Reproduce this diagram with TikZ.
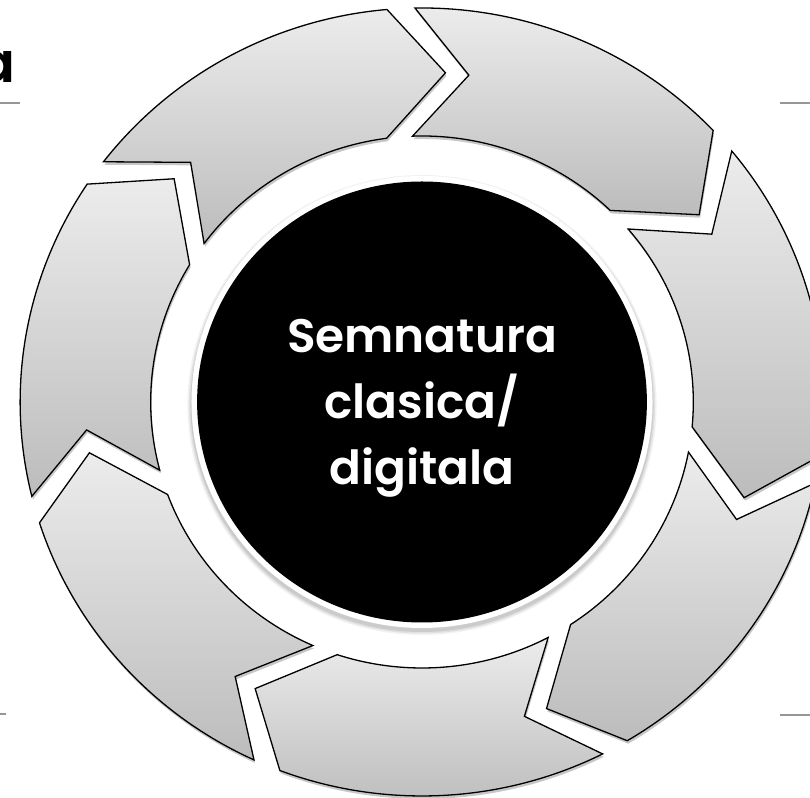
\documentclass[tikz,border=0pt]{standalone}
\usepackage{fontspec}
\newfontfamily\gothic{Poppins}[BoldFont={Poppins SemiBold}]
\usetikzlibrary{shadows}
\definecolor{segtop}{RGB}{236,236,236}
\definecolor{segbot}{RGB}{188,188,188}
\definecolor{rulegray}{RGB}{150,150,150}
\tikzset{
  segment/.style={draw=black, line width=1.3pt, line join=miter,
    top color=segtop, bottom color=segbot,
    drop shadow={shadow xshift=1pt, shadow yshift=-3pt, opacity=0.22, fill=black}},
  hubtext/.style={align=center, text=white,
    font=\gothic\bfseries\fontsize{47}{66}\selectfont},
  slideline/.style={draw=rulegray, line width=1.6pt}
}
\begin{document}
\begin{tikzpicture}[x=1pt, y=1pt]
  \useasboundingbox (0,0) rectangle (810,797);
  \clip (0,0) rectangle (810,797);
  \fill[white] (0,0) rectangle (810,797);

  % fragments of the slide layout: title end and rules
  \node[anchor=south east, inner sep=0pt, font=\gothic\bfseries\fontsize{56}{60}\selectfont] (titleend) at (16,714) {a};
  \draw[slideline] (0,694) -- (20,694);
  \draw[slideline] (780,694) -- (810,694);
  \draw[slideline] (0,83) -- (6,83);
  \draw[slideline] (780,82) -- (810,82);

  % ring of seven chevron arrows, running clockwise
  \begin{scope}[shift={(422,395)}, xscale=1.02]
    \foreach \j in {0,...,6} {
      \pgfmathsetmacro\a{86-\j*360/7}
      \pgfmathsetmacro\b{\a-360/7}
      \pgfmathsetmacro\nOut{\a+5}
      \pgfmathsetmacro\nTip{\a-4}
      \pgfmathsetmacro\nIn{\a+6}
      \pgfmathsetmacro\hIn{\b+11.5}
      \pgfmathsetmacro\hOut{\b+9}
      \path[segment] (\nOut:394) -- (\nTip:330) -- (\nIn:266)
        arc[start angle=\nIn, end angle=\hIn, radius=266]
        -- (\b:330) -- (\hOut:394)
        arc[start angle=\hOut, end angle=\nOut, radius=394] -- cycle;
    }
    % soft shadow and hub disc
    \foreach \k/\o in {6/0.05,4.5/0.07,3/0.09} {
      \fill[black, opacity=\o] (0,-3) circle[radius=224+\k];
    }
    \fill[white] (0,0) circle[radius=226];
    \fill[black] (0,0) circle[radius=220.5];
  \end{scope}

  \node[hubtext] (hub) at (422,389) {Semnatura\\clasica/\\digitala};
\end{tikzpicture}
\end{document}
